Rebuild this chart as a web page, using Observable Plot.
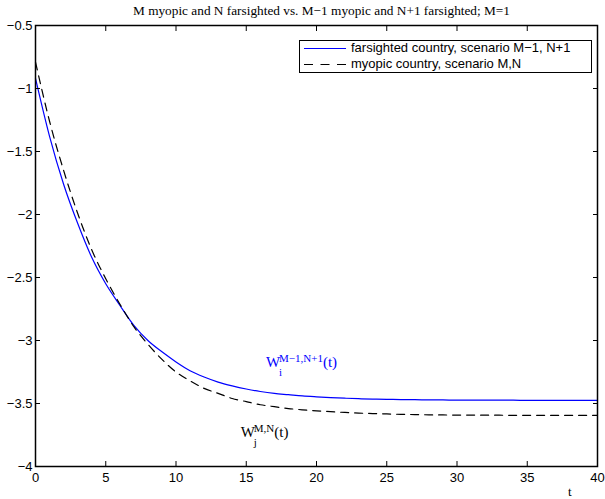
<!DOCTYPE html>
<html><head><meta charset="utf-8">
<script src="https://cdn.jsdelivr.net/npm/d3@7"></script>
<script src="https://cdn.jsdelivr.net/npm/@observablehq/plot@0.6"></script>
<style>
body{margin:0;background:#fff;}
#wrap{position:relative;width:605px;height:499px;}
#legend{position:absolute;left:299px;top:40px;width:293px;height:33px;border:1px solid #000;background:#fff;box-sizing:border-box;font:13px "Liberation Sans",Arial,sans-serif;color:#000;}
.row{position:absolute;left:2px;height:16px;line-height:16px;white-space:nowrap;}
.row svg{position:absolute;left:0;top:0;}
.row span{position:absolute;left:49px;top:0;}
</style></head><body>
<div id="wrap"></div>
<script>
const titleText = "M myopic and N farsighted vs. M\u22121 myopic and N+1 farsighted; M=1";
const tValues = d3.range(0, 41);
const farsightedW = [-0.92,-1.38,-1.76,-2.07,-2.34,-2.55,-2.72,-2.88,-3.00,-3.09,-3.17,-3.24,-3.29,-3.33,-3.36,-3.385,-3.405,-3.42,-3.43,-3.44,-3.447,-3.453,-3.458,-3.462,-3.465,-3.467,-3.469,-3.47,-3.471,-3.472,-3.473,-3.473,-3.474,-3.474,-3.474,-3.475,-3.475,-3.475,-3.475,-3.475,-3.475];
const myopicW = [-0.79,-1.26,-1.65,-1.99,-2.28,-2.51,-2.71,-2.89,-3.03,-3.15,-3.25,-3.32,-3.38,-3.42,-3.46,-3.485,-3.51,-3.525,-3.54,-3.55,-3.558,-3.565,-3.571,-3.576,-3.58,-3.583,-3.586,-3.588,-3.59,-3.591,-3.592,-3.592,-3.593,-3.593,-3.594,-3.594,-3.594,-3.595,-3.595,-3.595,-3.595];
const xTicks = [0,5,10,15,20,25,30,35,40];
const yTicks = [-4,-3.5,-3,-2.5,-2,-1.5,-1,-0.5];
const yTickLabels = ["\u22124","\u22123.5","\u22123","\u22122.5","\u22122","\u22121.5","\u22121","\u22120.5"];
const seriesNames = ["farsighted country, scenario M\u22121, N+1","myopic country, scenario M,N"];
const seriesColors = ["#0000ff","#000000"];
const seriesDash = [null,"8,6"];
const legendDash = [null,"9,7.5"];
const labelT = [16.4, 14.6];
const labelV = [-3.175, -3.73];
const labelSup = ["M\u22121,N+1","M,N"];
const labelSub = ["i","j"];
const labelColor = ["#0000ff","#000000"];

const rows1 = tValues.map((t,i)=>({t, w: farsightedW[i]}));
const rows2 = tValues.map((t,i)=>({t, w: myopicW[i]}));

const cv = document.createElement("canvas").getContext("2d");
function tw(s, font){ cv.font = font; return cv.measureText(s).width; }
const serif = '"Liberation Serif","Times New Roman",serif';

const labelMarks = [];
labelT.forEach((t,i)=>{
  const d = [{t, v: labelV[i]}];
  const wW = tw("W", "15px " + serif);
  const sW = tw(labelSup[i], "11px " + serif);
  const common = {x:"t", y:"v", fill: labelColor[i], fontFamily: serif, textAnchor:"start", lineAnchor:"middle"};
  labelMarks.push(Plot.text(d, {...common, text: ()=>"W", fontSize:15}));
  labelMarks.push(Plot.text(d, {...common, text: ()=>labelSup[i], fontSize:11, dx: wW - 1, dy: -4}));
  labelMarks.push(Plot.text(d, {...common, text: ()=>labelSub[i], fontSize:11, dx: wW - 1, dy: 10}));
  labelMarks.push(Plot.text(d, {...common, text: ()=>"(t)", fontSize:15, dx: wW + sW - 1}));
});

const fmt = d => yTickLabels[yTicks.indexOf(d)];
const none = () => "";

const chart = Plot.plot({
  width: 605, height: 499,
  marginTop: 25, marginBottom: 33, marginLeft: 35, marginRight: 8,
  style: {fontFamily: '"Liberation Sans",Arial,sans-serif', fontSize: "13px", background: "#fff", color: "#000"},
  x: {domain: [0,40]},
  y: {domain: [-4,-0.5]},
  marks: [
    Plot.line(rows1, {x:"t", y:"w", stroke: seriesColors[0], strokeWidth:1.2, curve:"monotone-x"}),
    Plot.line(rows2, {x:"t", y:"w", stroke: seriesColors[1], strokeWidth:1.2, strokeDasharray: seriesDash[1], curve:"monotone-x"}),
    // inward tick marks on all four sides
    Plot.axisX(xTicks, {anchor:"bottom", tickSize:5, dy:-5, tickFormat:none, label:null, strokeWidth:1}),
    Plot.axisX(xTicks, {anchor:"top", tickSize:5, dy:5, tickFormat:none, label:null, strokeWidth:1}),
    Plot.axisY(yTicks, {anchor:"left", tickSize:5, dx:5, tickFormat:none, label:null, strokeWidth:1}),
    Plot.axisY(yTicks, {anchor:"right", tickSize:5, dx:-5, tickFormat:none, label:null, strokeWidth:1}),
    // tick labels
    Plot.axisX(xTicks, {anchor:"bottom", tickSize:0, tickPadding:6, label:null, fontSize:13}),
    Plot.axisY(yTicks, {anchor:"left", tickSize:0, tickPadding:3, tickFormat: fmt, label:null, fontSize:13}),
    Plot.frame({stroke:"#000", strokeWidth:1.5}),
    Plot.text([titleText], {frameAnchor:"top", dy:-15, dx:5, fontFamily: serif, fontSize:13.3, lineAnchor:"middle"}),
    Plot.text(["t"], {frameAnchor:"bottom-right", dx:-26, dy:25, fontFamily: serif, fontSize:13, lineAnchor:"middle"}),
    ...labelMarks
  ]
});
const wrap = document.getElementById("wrap");
wrap.appendChild(chart);

const leg = document.createElement("div");
leg.id = "legend";
seriesNames.forEach((name,i)=>{
  const r = document.createElement("div");
  r.className = "row";
  r.style.top = (i===0 ? -1 : 15) + "px";
  r.innerHTML = `<svg width="48" height="16"><line x1="2" x2="44" y1="8.5" y2="8.5" stroke="${seriesColors[i]}" stroke-width="1.2" ${legendDash[i] ? `stroke-dasharray="${legendDash[i]}"` : ""}/></svg><span></span>`;
  r.querySelector("span").textContent = name;
  leg.appendChild(r);
});
wrap.appendChild(leg);
</script>
</body></html>
